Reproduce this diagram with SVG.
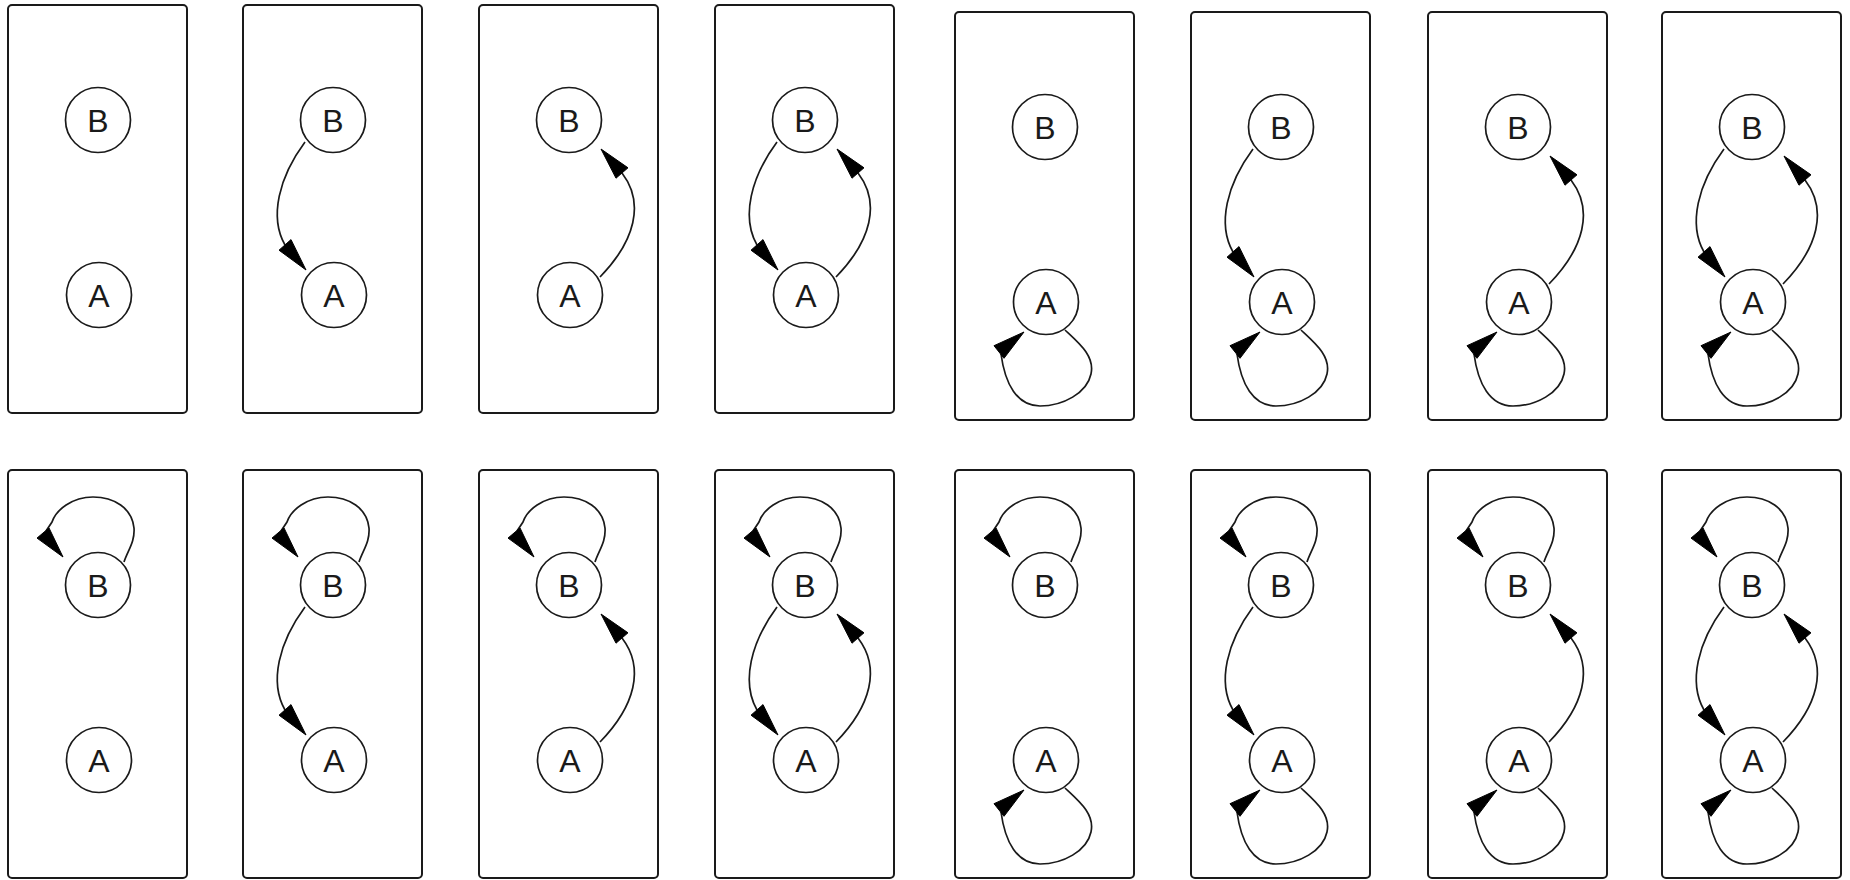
<svg xmlns="http://www.w3.org/2000/svg" xmlns:xlink="http://www.w3.org/1999/xlink" width="1850" height="880" viewBox="0 0 1850 880">
<style>
.box{fill:none;stroke:#1a1a1a;stroke-width:2}
.nd{fill:#fff;stroke:#1a1a1a;stroke-width:1.7}
.lb{font-family:"Liberation Sans",Arial,sans-serif;font-size:32px;fill:#1a1a1a;text-anchor:middle}
.ed{fill:none;stroke:#1a1a1a;stroke-width:1.7}
.ah{fill:#000;stroke:#000;stroke-width:1}
</style>
<defs>
<rect id="frame" class="box" x="0" y="0" width="179" height="408" rx="4"/>
<g id="eBA"><path class="ed" d="M62,137 C36,172 26,212 42,240"/><polygon class="ah" points="63,265 48,234.6 36,245.2"/></g>
<g id="eAB"><path class="ed" d="M121,272 C156,236 166,198 143,168"/><polygon class="ah" points="122,144 149,162.8 137,173.2"/></g>
<g id="eAA"><path class="ed" d="M110,318 C124,331 140,344 136,362 C132,381 108,394 85,394 C62,394 50,372 46,342"/><polygon class="ah" points="69,320 39,333.7 49,346.3"/></g>
<g id="eBB"><path class="ed" d="M116,92 C120,80 127,72 126,58 C124,38 106,27 85,27 C64,27 48,40 44,52 L38,61"/><polygon class="ah" points="55,87 41,57.9 29,68.1"/></g>
</defs>

<g id="frames">
<use href="#frame" x="8" y="5"/>
<use href="#frame" x="243" y="5"/>
<use href="#frame" x="479" y="5"/>
<use href="#frame" x="715" y="5"/>
<use href="#frame" x="955" y="12"/>
<use href="#frame" x="1191" y="12"/>
<use href="#frame" x="1428" y="12"/>
<use href="#frame" x="1662" y="12"/>
<use href="#frame" x="8" y="470"/>
<use href="#frame" x="243" y="470"/>
<use href="#frame" x="479" y="470"/>
<use href="#frame" x="715" y="470"/>
<use href="#frame" x="955" y="470"/>
<use href="#frame" x="1191" y="470"/>
<use href="#frame" x="1428" y="470"/>
<use href="#frame" x="1662" y="470"/>
</g>

<g id="connectors">
<use href="#eBA" x="243" y="5"/>
<use href="#eAB" x="479" y="5"/>
<use href="#eBA" x="715" y="5"/><use href="#eAB" x="715" y="5"/>
<use href="#eAA" x="955" y="12"/>
<use href="#eAA" x="1191" y="12"/><use href="#eBA" x="1191" y="12"/>
<use href="#eAA" x="1428" y="12"/><use href="#eAB" x="1428" y="12"/>
<use href="#eAA" x="1662" y="12"/><use href="#eBA" x="1662" y="12"/><use href="#eAB" x="1662" y="12"/>
<use href="#eBB" x="8" y="470"/>
<use href="#eBB" x="243" y="470"/><use href="#eBA" x="243" y="470"/>
<use href="#eBB" x="479" y="470"/><use href="#eAB" x="479" y="470"/>
<use href="#eBB" x="715" y="470"/><use href="#eBA" x="715" y="470"/><use href="#eAB" x="715" y="470"/>
<use href="#eBB" x="955" y="470"/><use href="#eAA" x="955" y="470"/>
<use href="#eBB" x="1191" y="470"/><use href="#eAA" x="1191" y="470"/><use href="#eBA" x="1191" y="470"/>
<use href="#eBB" x="1428" y="470"/><use href="#eAA" x="1428" y="470"/><use href="#eAB" x="1428" y="470"/>
<use href="#eBB" x="1662" y="470"/><use href="#eAA" x="1662" y="470"/><use href="#eBA" x="1662" y="470"/><use href="#eAB" x="1662" y="470"/>
</g>

<g id="p1-B" transform="translate(8,5)"><circle class="nd" cx="90" cy="115" r="32.5"/><text class="lb" x="90" y="126.5">B</text></g>
<g id="p1-A" transform="translate(8,5)"><circle class="nd" cx="91" cy="290" r="32.5"/><text class="lb" x="91" y="301.5">A</text></g>
<g id="p2-B" transform="translate(243,5)"><circle class="nd" cx="90" cy="115" r="32.5"/><text class="lb" x="90" y="126.5">B</text></g>
<g id="p2-A" transform="translate(243,5)"><circle class="nd" cx="91" cy="290" r="32.5"/><text class="lb" x="91" y="301.5">A</text></g>
<g id="p3-B" transform="translate(479,5)"><circle class="nd" cx="90" cy="115" r="32.5"/><text class="lb" x="90" y="126.5">B</text></g>
<g id="p3-A" transform="translate(479,5)"><circle class="nd" cx="91" cy="290" r="32.5"/><text class="lb" x="91" y="301.5">A</text></g>
<g id="p4-B" transform="translate(715,5)"><circle class="nd" cx="90" cy="115" r="32.5"/><text class="lb" x="90" y="126.5">B</text></g>
<g id="p4-A" transform="translate(715,5)"><circle class="nd" cx="91" cy="290" r="32.5"/><text class="lb" x="91" y="301.5">A</text></g>
<g id="p5-B" transform="translate(955,12)"><circle class="nd" cx="90" cy="115" r="32.5"/><text class="lb" x="90" y="126.5">B</text></g>
<g id="p5-A" transform="translate(955,12)"><circle class="nd" cx="91" cy="290" r="32.5"/><text class="lb" x="91" y="301.5">A</text></g>
<g id="p6-B" transform="translate(1191,12)"><circle class="nd" cx="90" cy="115" r="32.5"/><text class="lb" x="90" y="126.5">B</text></g>
<g id="p6-A" transform="translate(1191,12)"><circle class="nd" cx="91" cy="290" r="32.5"/><text class="lb" x="91" y="301.5">A</text></g>
<g id="p7-B" transform="translate(1428,12)"><circle class="nd" cx="90" cy="115" r="32.5"/><text class="lb" x="90" y="126.5">B</text></g>
<g id="p7-A" transform="translate(1428,12)"><circle class="nd" cx="91" cy="290" r="32.5"/><text class="lb" x="91" y="301.5">A</text></g>
<g id="p8-B" transform="translate(1662,12)"><circle class="nd" cx="90" cy="115" r="32.5"/><text class="lb" x="90" y="126.5">B</text></g>
<g id="p8-A" transform="translate(1662,12)"><circle class="nd" cx="91" cy="290" r="32.5"/><text class="lb" x="91" y="301.5">A</text></g>
<g id="p9-B" transform="translate(8,470)"><circle class="nd" cx="90" cy="115" r="32.5"/><text class="lb" x="90" y="126.5">B</text></g>
<g id="p9-A" transform="translate(8,470)"><circle class="nd" cx="91" cy="290" r="32.5"/><text class="lb" x="91" y="301.5">A</text></g>
<g id="p10-B" transform="translate(243,470)"><circle class="nd" cx="90" cy="115" r="32.5"/><text class="lb" x="90" y="126.5">B</text></g>
<g id="p10-A" transform="translate(243,470)"><circle class="nd" cx="91" cy="290" r="32.5"/><text class="lb" x="91" y="301.5">A</text></g>
<g id="p11-B" transform="translate(479,470)"><circle class="nd" cx="90" cy="115" r="32.5"/><text class="lb" x="90" y="126.5">B</text></g>
<g id="p11-A" transform="translate(479,470)"><circle class="nd" cx="91" cy="290" r="32.5"/><text class="lb" x="91" y="301.5">A</text></g>
<g id="p12-B" transform="translate(715,470)"><circle class="nd" cx="90" cy="115" r="32.5"/><text class="lb" x="90" y="126.5">B</text></g>
<g id="p12-A" transform="translate(715,470)"><circle class="nd" cx="91" cy="290" r="32.5"/><text class="lb" x="91" y="301.5">A</text></g>
<g id="p13-B" transform="translate(955,470)"><circle class="nd" cx="90" cy="115" r="32.5"/><text class="lb" x="90" y="126.5">B</text></g>
<g id="p13-A" transform="translate(955,470)"><circle class="nd" cx="91" cy="290" r="32.5"/><text class="lb" x="91" y="301.5">A</text></g>
<g id="p14-B" transform="translate(1191,470)"><circle class="nd" cx="90" cy="115" r="32.5"/><text class="lb" x="90" y="126.5">B</text></g>
<g id="p14-A" transform="translate(1191,470)"><circle class="nd" cx="91" cy="290" r="32.5"/><text class="lb" x="91" y="301.5">A</text></g>
<g id="p15-B" transform="translate(1428,470)"><circle class="nd" cx="90" cy="115" r="32.5"/><text class="lb" x="90" y="126.5">B</text></g>
<g id="p15-A" transform="translate(1428,470)"><circle class="nd" cx="91" cy="290" r="32.5"/><text class="lb" x="91" y="301.5">A</text></g>
<g id="p16-B" transform="translate(1662,470)"><circle class="nd" cx="90" cy="115" r="32.5"/><text class="lb" x="90" y="126.5">B</text></g>
<g id="p16-A" transform="translate(1662,470)"><circle class="nd" cx="91" cy="290" r="32.5"/><text class="lb" x="91" y="301.5">A</text></g>
</svg>
